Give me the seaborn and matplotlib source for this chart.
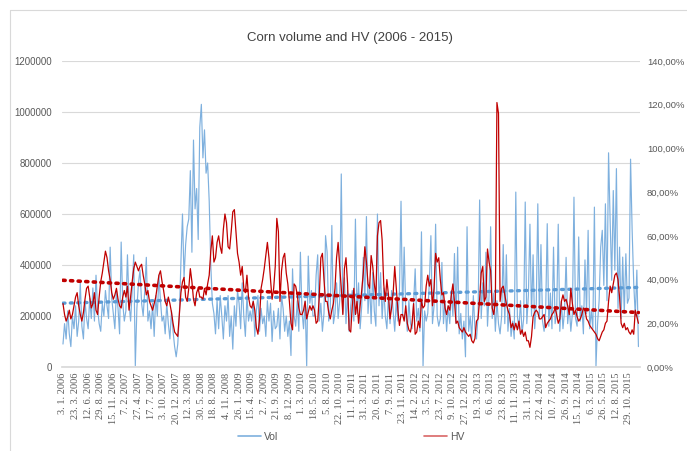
import numpy as np
import pandas as pd
import matplotlib
matplotlib.use("Agg")
import matplotlib.pyplot as plt
import seaborn as sns
from matplotlib.lines import Line2D
from matplotlib.ticker import FuncFormatter, MultipleLocator

# ---------------- data (~every 7th trading day) -------------
tick_labels = [
    "3. 1. 2006", "23. 3. 2006", "12. 6. 2006", "29. 8. 2006", "15. 11. 2006",
    "7. 2. 2007", "27. 4. 2007", "17. 7. 2007", "3. 10. 2007", "20. 12. 2007",
    "12. 3. 2008", "30. 5. 2008", "18. 8. 2008", "4. 11. 2008", "26. 1. 2009",
    "15. 4. 2009", "2. 7. 2009", "21. 9. 2009", "8. 12. 2009", "1. 3. 2010",
    "18. 5. 2010", "5. 8. 2010", "22. 10. 2010", "11. 1. 2011", "31. 3. 2011",
    "20. 6. 2011", "7. 9. 2011", "23. 11. 2011", "14. 2. 2012", "3. 5. 2012",
    "23. 7. 2012", "9. 10. 2012", "27. 12. 2012", "19. 3. 2013", "6. 6. 2013",
    "23. 8. 2013", "11. 11. 2013", "31. 1. 2014", "22. 4. 2014", "10. 7. 2014",
    "26. 9. 2014", "15. 12. 2014", "6. 3. 2015", "26. 5. 2015", "12. 8. 2015",
    "29. 10. 2015",
]

# Corn volume, thousands of contracts
vol_k = [
    90, 170, 110, 220, 130, 80, 200, 150,
    240, 120, 180, 330, 160, 110, 260, 190,
    150, 270, 190, 310, 180, 360, 230, 170,
    140, 250, 200, 300, 240, 190, 470, 270,
    210, 150, 300, 230, 130, 490, 250, 180,
    220, 440, 250, 180, 300, 440, 5, 230,
    330, 380, 250, 200, 300, 430, 180, 220,
    150, 250, 120, 280, 200, 360, 260, 180,
    200, 130, 250, 170, 110, 220, 140, 80,
    40, 90, 200, 410, 600, 350, 480, 550,
    580, 770, 450, 890, 620, 700, 500, 940,
    1030, 820, 930, 760, 800, 650, 400, 250,
    210, 130, 260, 150, 280, 200, 110, 240,
    180, 280, 120, 200, 70, 240, 160, 300,
    250, 150, 330, 200, 120, 280, 180, 220,
    180, 260, 120, 220, 280, 140, 230, 170,
    200, 120, 260, 180, 250, 100, 220, 150,
    160, 230, 110, 280, 230, 140, 200, 120,
    180, 45, 385, 200, 160, 260, 140, 450,
    220, 150, 260, 2, 435, 250, 300, 200,
    200, 360, 440, 180, 250, 140, 210, 515,
    450, 180, 230, 555, 170, 210, 330, 190,
    260, 757, 210, 350, 170, 300, 140, 240,
    300, 180, 580, 210, 330, 150, 240, 430,
    260, 590, 210, 330, 170, 370, 220, 160,
    600, 240, 370, 190, 310, 200, 150, 280,
    170, 300, 220, 140, 260, 180, 300, 650,
    200, 470, 220, 140, 260, 170, 150, 250,
    385, 180, 230, 140, 530, 3, 220, 180,
    210, 330, 515, 170, 240, 560, 200, 160,
    190, 410, 170, 260, 140, 240, 170, 300,
    200, 445, 170, 470, 130, 210, 110, 180,
    40, 550, 140, 200, 110, 280, 150, 110,
    200, 655, 190, 330, 240, 450, 160, 280,
    550, 190, 290, 140, 260, 170, 130, 200,
    480, 170, 440, 140, 230, 120, 180, 110,
    686, 200, 150, 260, 130, 190, 647, 170,
    280, 560, 200, 440, 150, 240, 640, 190,
    480, 180, 140, 220, 562, 160, 290, 150,
    470, 170, 210, 560, 140, 260, 150, 220,
    430, 170, 240, 140, 210, 666, 190, 160,
    510, 180, 240, 130, 420, 210, 536, 150,
    220, 150, 627, 3, 170, 260, 470, 536,
    320, 640, 260, 840, 575, 340, 692, 380,
    778, 230, 470, 190, 431, 210, 444, 250,
    270, 815, 536, 330, 200, 380, 80,
]

# Historical volatility, percent
hv_pct = [
    29, 24, 21, 23, 26, 22, 24, 28,
    32, 34, 28, 24, 21, 25, 31, 36,
    37, 32, 27, 29, 34, 26, 24, 32,
    39, 43, 48, 53, 50, 44, 40, 34,
    31, 33, 36, 31, 28, 27, 32, 35,
    32, 37, 26, 32, 39, 45, 48, 46,
    44, 46, 47, 42, 38, 33, 35, 30,
    28, 26, 29, 32, 37, 42, 44, 39,
    35, 30, 28, 32, 29, 25, 20, 16,
    15, 14, 24, 34, 39, 41, 32, 30,
    36, 45, 39, 31, 28, 34, 36, 32,
    32, 31, 36, 33, 38, 42, 53, 60,
    48, 50, 57, 60, 55, 52, 63, 70,
    66, 55, 54, 62, 71, 72, 62, 52,
    48, 42, 46, 36, 34, 42, 32, 28,
    27, 30, 26, 18, 15, 22, 36, 40,
    45, 51, 57, 50, 40, 31, 36, 46,
    68, 62, 30, 44, 50, 52, 43, 38,
    30, 20, 17, 38, 37, 33, 27, 24,
    24, 26, 30, 22, 25, 28, 26, 28,
    26, 20, 21, 32, 50, 52, 40, 30,
    30, 25, 22, 26, 29, 36, 50, 57,
    46, 36, 24, 45, 50, 38, 17, 16,
    28, 36, 24, 30, 20, 28, 35, 43,
    55, 48, 38, 36, 51, 46, 38, 32,
    60, 66, 67, 58, 38, 30, 40, 33,
    22, 27, 34, 46, 36, 26, 19, 24,
    24, 21, 28, 20, 17, 16, 20, 29,
    15, 16, 21, 18, 30, 27, 28, 37,
    42, 37, 40, 28, 36, 52, 48, 50,
    40, 33, 34, 27, 24, 28, 26, 33,
    38, 30, 20, 21, 18, 17, 16, 18,
    16, 15, 14, 15, 12, 11, 13, 21,
    22, 31, 43, 46, 30, 32, 54, 48,
    44, 27, 24, 30, 121, 116, 30, 36,
    37, 33, 29, 26, 24, 18, 20, 17,
    20, 17, 21, 15, 17, 14, 16, 12,
    12, 9, 14, 23, 25, 26, 25, 22,
    22, 23, 24, 18, 20, 21, 22, 24,
    25, 27, 24, 20, 22, 30, 33, 30,
    31, 28, 24, 36, 29, 24, 26, 23,
    21, 22, 24, 27, 26, 22, 21, 19,
    18, 17, 16, 15, 13, 12, 14, 16,
    17, 20, 21, 30, 37, 34, 38, 42,
    43, 40, 32, 20, 18, 20, 17, 18,
    16, 15, 17, 15, 26, 23, 20,
]

points_per_label = 8

# ---------------- build -----------------
df = pd.DataFrame({
    "k": np.arange(len(vol_k)),
    "Vol": np.array(vol_k) * 1000.0,
    "HV": np.array(hv_pct) / 100.0,
})

sns.set_theme(style="white")
plt.rcParams["font.family"] = ["Liberation Sans", "DejaVu Sans"]

VOL_C = "#7EB0DE"
HV_C = "#C00000"
TXT = "#595959"
GRID = "#D9D9D9"

fig = plt.figure(figsize=(6.87, 4.51), dpi=100)
ax = fig.add_axes([62 / 687, 1 - 367 / 451, (640 - 62) / 687, (367 - 61) / 451])
ax2 = ax.twinx()

sns.lineplot(data=df, x="k", y="Vol", ax=ax, color=VOL_C, lw=0.85, legend=False)
sns.regplot(data=df, x="k", y="Vol", ax=ax, scatter=False, ci=None, truncate=True,
            line_kws=dict(color="#5B9BD5", lw=2.4, ls=(0, (0.6, 1.6)),
                          dash_capstyle="round", zorder=5))

sns.lineplot(data=df, x="k", y="HV", ax=ax2, color=HV_C, lw=0.9, legend=False)
sns.regplot(data=df, x="k", y="HV", ax=ax2, scatter=False, ci=None, truncate=True,
            line_kws=dict(color=HV_C, lw=2.6, ls=(0, (0.6, 1.5)),
                          dash_capstyle="round", zorder=6))

n = len(df)
for a in (ax, ax2):
    a.set_xlim(-0.63, n - 0.0)
    a.set_xlabel("")
    a.set_ylabel("")
    for s in a.spines.values():
        s.set_visible(False)

ax.set_ylim(0, 1200000)
ax.yaxis.set_major_locator(MultipleLocator(200000))
ax.yaxis.set_major_formatter(FuncFormatter(lambda v, p: f"{int(v)}"))
ax.grid(axis="y", color=GRID, lw=0.8)
ax.grid(axis="x", visible=False)
ax.spines["bottom"].set_visible(True)
ax.spines["bottom"].set_color(GRID)
ax.tick_params(axis="y", labelsize=7, colors=TXT, length=0, pad=7)

ax2.set_ylim(0, 1.4)
ax2.yaxis.set_major_locator(MultipleLocator(0.2))
ax2.yaxis.set_major_formatter(FuncFormatter(lambda v, p: f"{v*100:.2f}".replace(".", ",") + "%"))
ax2.tick_params(axis="y", labelsize=6.8, colors=TXT, length=0, pad=5)
ax2.grid(False)

ticks = np.arange(len(tick_labels)) * points_per_label
ax.set_xticks(ticks)
ax.set_xticklabels(tick_labels, rotation=90, fontsize=7.5, color=TXT,
                   family=["Liberation Serif", "DejaVu Serif"])
ax.tick_params(axis="x", length=0, pad=4)

fig.text(0.51, 1 - 38 / 451, "Corn volume and HV (2006 - 2015)", ha="center", va="center",
         fontsize=9.5, color="#404040")

handles = [Line2D([], [], color=VOL_C, lw=1.2), Line2D([], [], color=HV_C, lw=1.2, alpha=0.6)]
leg = fig.legend(handles, ["Vol", "HV"], loc="center", bbox_to_anchor=(0.511, 1 - 437 / 451),
                 ncol=2, frameon=False, fontsize=7.5, handlelength=2.2, columnspacing=14,
                 handletextpad=0.3)
for t in leg.get_texts():
    t.set_color(TXT)

# chart-area border (left and top edges visible in the reference)
fig.add_artist(Line2D([10 / 687, 10 / 687], [0, 1 - 10 / 451], transform=fig.transFigure,
                      color=GRID, lw=0.8))
fig.add_artist(Line2D([10 / 687, 1], [1 - 10 / 451, 1 - 10 / 451], transform=fig.transFigure,
                      color=GRID, lw=0.8))

fig.savefig("out.png", dpi=100)
